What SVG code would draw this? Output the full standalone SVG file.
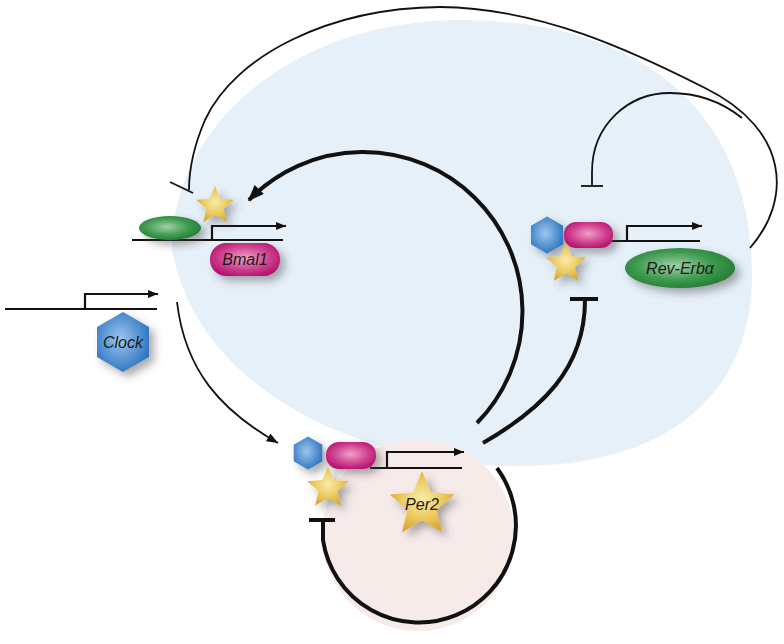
<svg xmlns="http://www.w3.org/2000/svg" xmlns:xlink="http://www.w3.org/1999/xlink" width="784" height="644" viewBox="0 0 784 644">
<style>
.gene{fill:none;stroke:#111;stroke-width:2.2}
.thin{fill:none;stroke:#111;stroke-width:1.8}
.thick{fill:none;stroke:#111;stroke-width:4}
.lbl{font-family:"Liberation Sans",Arial,sans-serif;font-style:italic;font-size:16px;fill:#1a1a1a;text-anchor:middle}
</style>
<defs>
<radialGradient id="gBlue" cx="0.45" cy="0.45" r="0.6"><stop offset="0" stop-color="#9cc6ee"/><stop offset="1" stop-color="#2a72c0"/></radialGradient>
<radialGradient id="gMag" cx="0.5" cy="0.45" r="0.6"><stop offset="0" stop-color="#eea0c8"/><stop offset="0.6" stop-color="#cf3f8e"/><stop offset="1" stop-color="#b0106c"/></radialGradient>
<radialGradient id="gStar" cx="0.5" cy="0.45" r="0.55"><stop offset="0" stop-color="#f8ecaa"/><stop offset="0.6" stop-color="#ecc85a"/><stop offset="1" stop-color="#d7a834"/></radialGradient>
<radialGradient id="gGreen" cx="0.45" cy="0.45" r="0.6"><stop offset="0" stop-color="#9fd0a8"/><stop offset="0.6" stop-color="#3c9a4e"/><stop offset="1" stop-color="#237a34"/></radialGradient>
<filter id="sh" x="-50%" y="-50%" width="200%" height="200%"><feDropShadow dx="5" dy="5" stdDeviation="4" flood-color="#444" flood-opacity="0.45"/></filter>
<polygon id="star" points="0,-1 0.265,-0.364 0.951,-0.309 0.428,0.139 0.588,0.809 0,0.45 -0.588,0.809 -0.428,0.139 -0.951,-0.309 -0.265,-0.364"/>
<polygon id="hex" points="0,-1 0.866,-0.5 0.866,0.5 0,1 -0.866,0.5 -0.866,-0.5"/>
<marker id="ah" viewBox="0 0 10 8" refX="10" refY="4" markerWidth="11" markerHeight="8" markerUnits="userSpaceOnUse" orient="auto"><path d="M0,0 L10,4 L0,8 Z" fill="#111"/></marker>
<marker id="ahm" viewBox="0 0 10 8" refX="10" refY="4" markerWidth="13" markerHeight="9" markerUnits="userSpaceOnUse" orient="auto"><path d="M0,0 L10,4 L0,8 Z" fill="#111"/></marker>
<marker id="ahb" viewBox="0 0 10 8" refX="9" refY="4" markerWidth="17" markerHeight="13" markerUnits="userSpaceOnUse" orient="auto"><path d="M0,0 L10,4 L0,8 Z" fill="#111"/></marker>
</defs>
<rect width="784" height="644" fill="#ffffff"/>
<g id="compartments">
<path id="nucleus-blue" d="M 460,20 C 640,20 752,110 752,275 C 752,400 660,466 520,466 C 380,468 200,400 172,250 C 172,120 300,20 460,20 Z" fill="#e6f0f9"/>
<circle id="per2-zone" cx="418" cy="535" r="96" fill="#f7ebea"/>
</g>
<g id="connectors">
<path class="thin" d="M 750,248 C 792,200 790,130 705,88 C 630,50 540,8 440,7 C 330,8 235,55 205,120 C 193,148 189,170 189,190"/>
<path class="thin" d="M 170,182 L 193,193"/>
<path class="thin" d="M 592,186 L 592,172 C 592,125 628,93 670,93 C 698,93 722,102 742,118"/>
<path class="thin" d="M 581,186 L 603,186"/>
<path class="thick" d="M 477,423 A 158 158 0 1 0 249,200" marker-end="url(#ahb)"/>
<path class="thick" d="M 483,443 C 540,410 585,370 585,300"/>
<path class="thick" d="M 570,299 L 598,299"/>
<path class="thick" d="M 323,520 L 323,540 A 97 97 0 1 0 497,468"/>
<path class="thick" d="M 309,520 L 335,520"/>
<path class="thin" d="M 177,302 C 185,370 220,410 278,443" marker-end="url(#ahm)"/>
</g>
<g id="clock-gene">
<line class="gene" x1="5" y1="309" x2="157" y2="309"/>
<path class="gene" d="M 85,309 L 85,294 L 158,294" marker-end="url(#ah)"/>
<g filter="url(#sh)"><use href="#hex" transform="translate(123,342) scale(30)" fill="url(#gBlue)"/></g>
<text class="lbl" x="123" y="348">Clock</text>
</g>
<g id="bmal1-gene">
<line class="gene" x1="132" y1="240" x2="283" y2="240"/>
<path class="gene" d="M 212,240 L 212,226 L 286,226" marker-end="url(#ah)"/>
<ellipse cx="170" cy="228" rx="31" ry="12" fill="url(#gGreen)" filter="url(#sh)"/>
<g filter="url(#sh)"><use href="#star" transform="translate(215,206) scale(20)" fill="url(#gStar)"/></g>
<rect x="210" y="243" width="70" height="33" rx="16" fill="url(#gMag)" filter="url(#sh)"/>
<text class="lbl" x="245" y="265">Bmal1</text>
</g>
<g id="reverb-gene">
<line class="gene" x1="610" y1="241" x2="700" y2="241"/>
<path class="gene" d="M 627,241 L 627,226 L 702,226" marker-end="url(#ah)"/>
<g filter="url(#sh)">
<use href="#star" transform="translate(566,264) scale(21)" fill="url(#gStar)"/>
<use href="#hex" transform="translate(547,235) scale(18.5)" fill="url(#gBlue)"/>
<rect x="564" y="222" width="49" height="26" rx="12" fill="url(#gMag)"/>
</g>
<ellipse cx="680" cy="268" rx="55" ry="20" fill="url(#gGreen)" filter="url(#sh)"/>
<text class="lbl" x="680" y="274">Rev-Erbα</text>
</g>
<g id="per2-gene">
<line class="gene" x1="370" y1="468" x2="462" y2="468"/>
<path class="gene" d="M 387,468 L 387,452 L 464,452" marker-end="url(#ah)"/>
<g filter="url(#sh)">
<use href="#star" transform="translate(328,488) scale(22)" fill="url(#gStar)"/>
<use href="#hex" transform="translate(308,453) scale(16.5)" fill="url(#gBlue)"/>
<rect x="326" y="442" width="50" height="27" rx="13" fill="url(#gMag)"/>
</g>
<g filter="url(#sh)"><use href="#star" transform="translate(422,505) scale(34)" fill="url(#gStar)"/></g>
<text class="lbl" x="422" y="510">Per2</text>
</g>
</svg>
